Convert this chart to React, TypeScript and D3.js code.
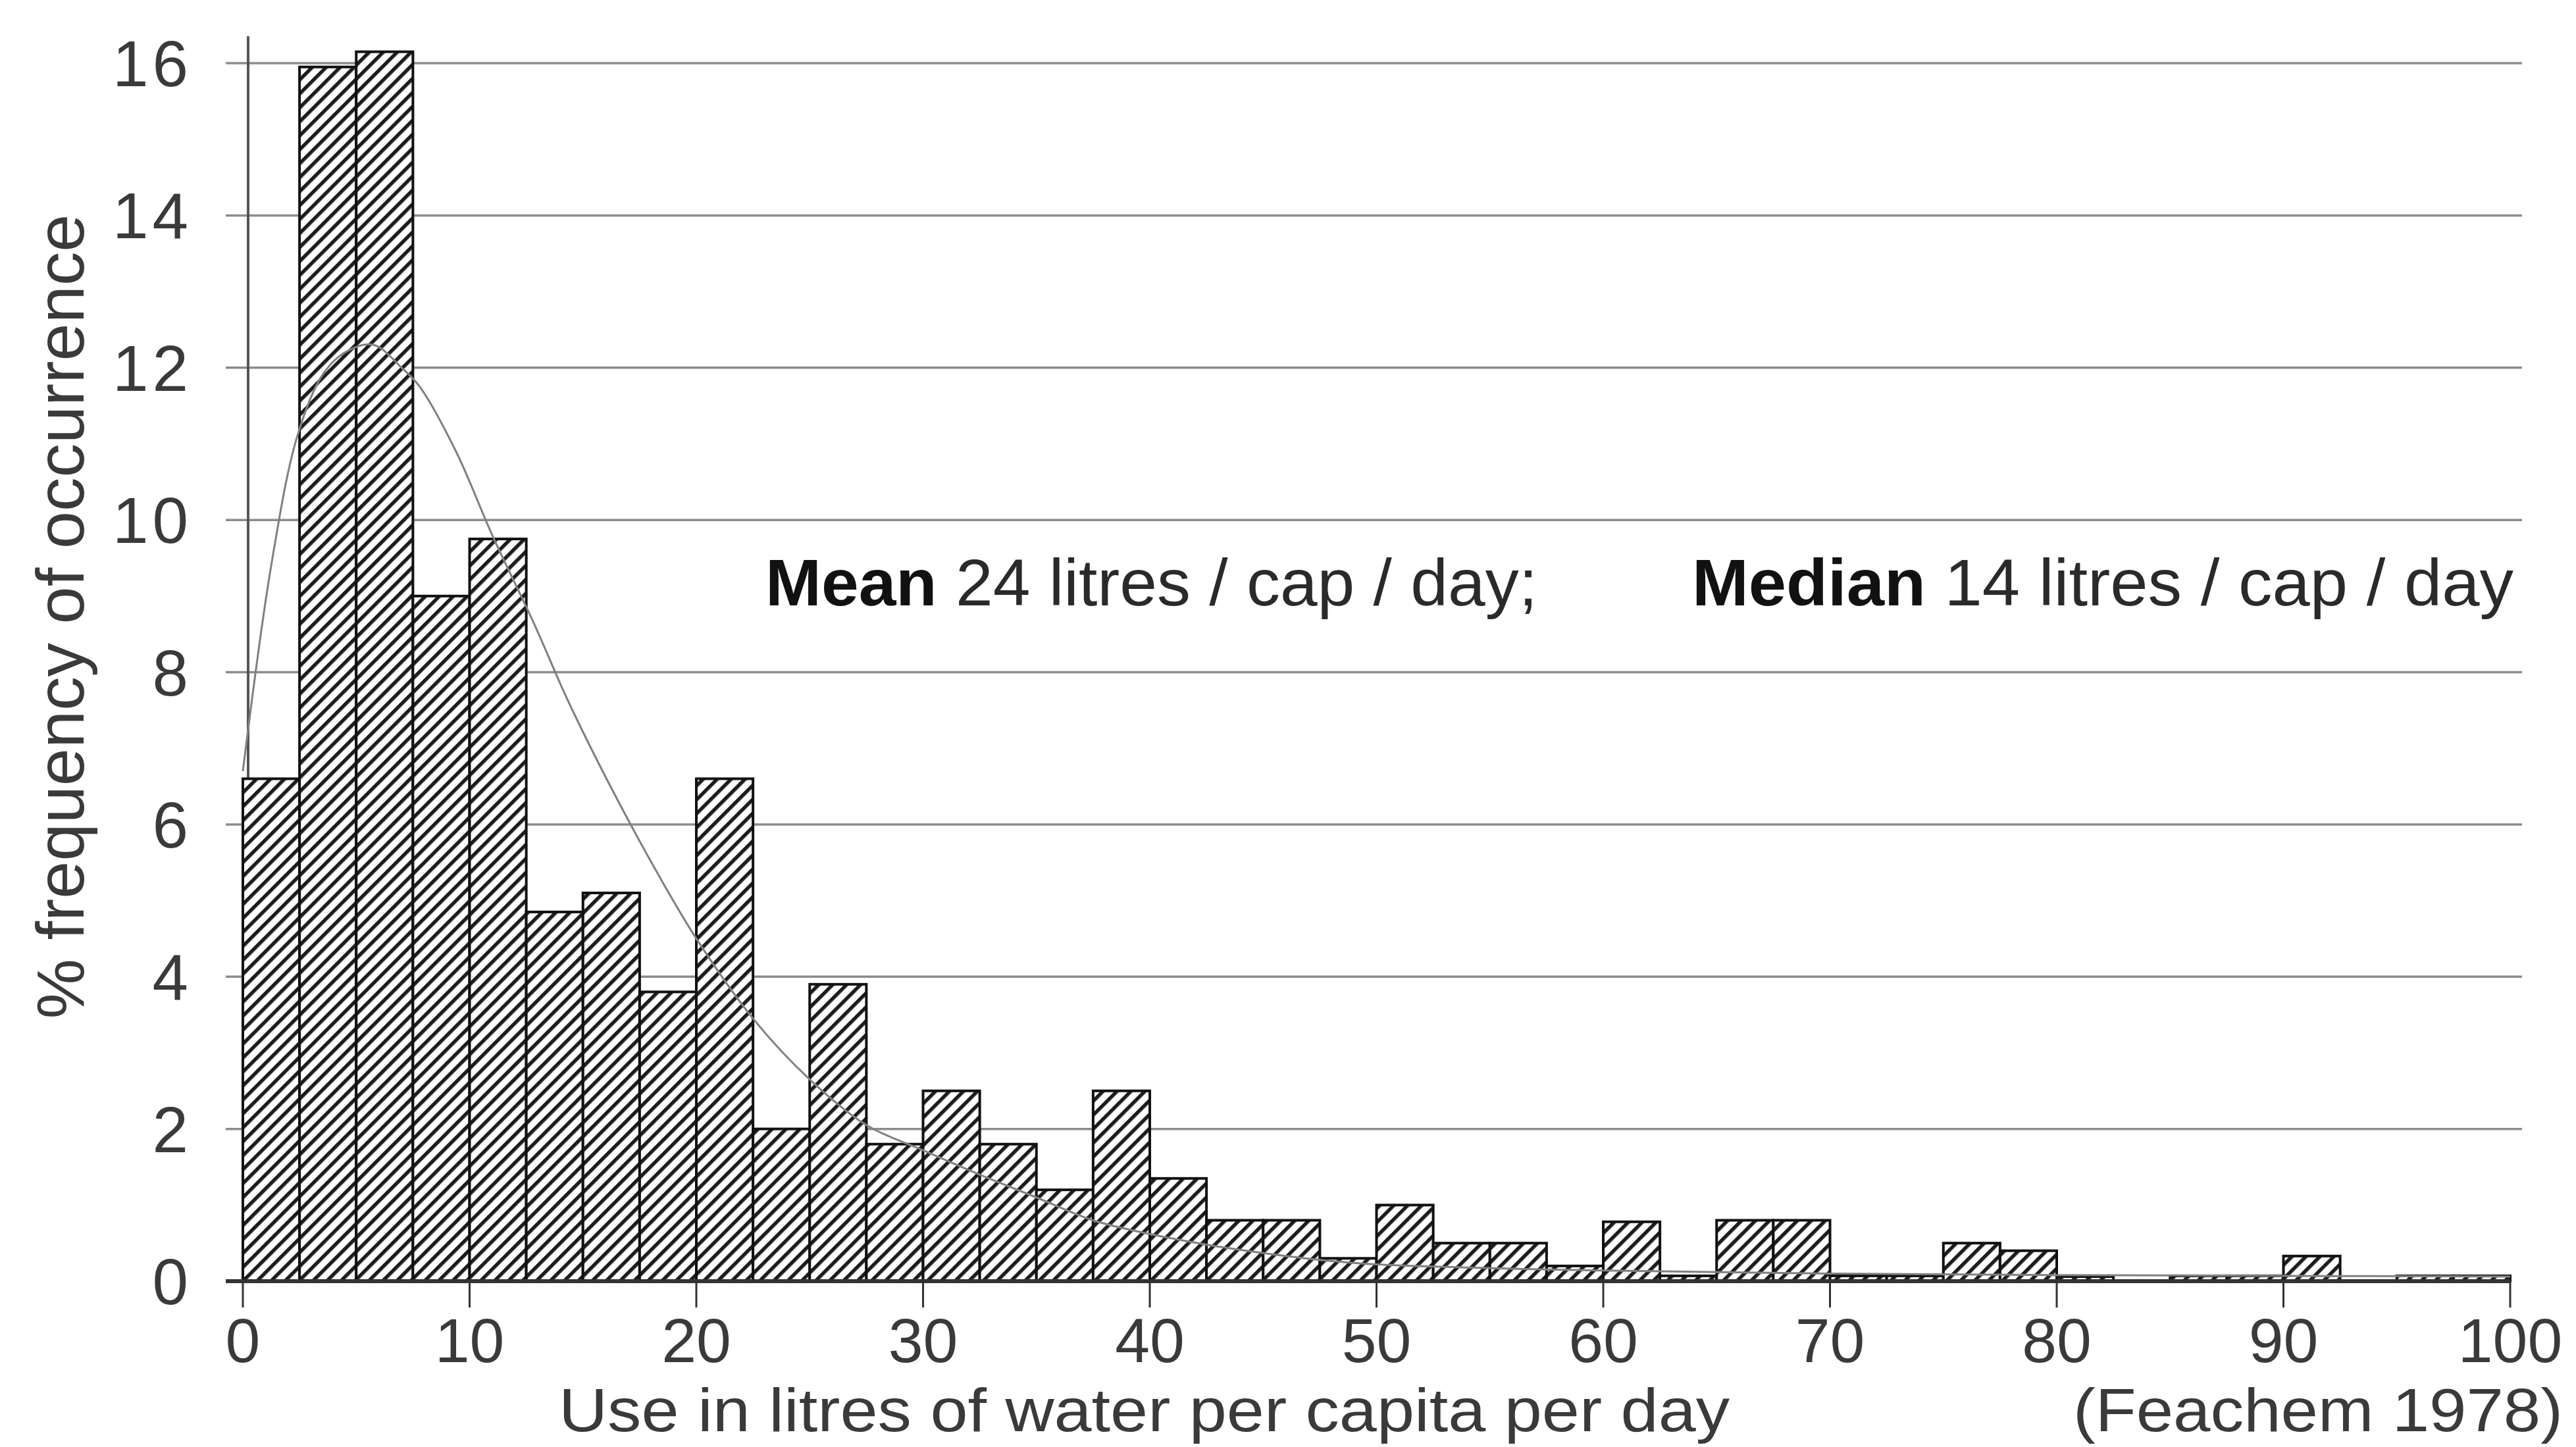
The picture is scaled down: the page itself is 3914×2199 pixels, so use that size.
import React from 'react';
import * as d3 from 'd3';

// ---- data ----
const binStarts = [0, 2.5, 5, 7.5, 10, 12.5, 15, 17.5, 20, 22.5, 25, 27.5, 30, 32.5, 35, 37.5, 40, 42.5, 45, 47.5, 50, 52.5, 55, 57.5, 60, 62.5, 65, 67.5, 70, 72.5, 75, 77.5, 80, 82.5, 85, 87.5, 90, 92.5, 95, 97.5];
const binWidth = 2.5;
const frequency = [6.6, 15.95, 16.15, 9.0, 9.75, 4.85, 5.1, 3.8, 6.6, 2.0, 3.9, 1.8, 2.5, 1.8, 1.2, 2.5, 1.35, 0.8, 0.8, 0.3, 1.0, 0.5, 0.5, 0.2, 0.78, 0.07, 0.8, 0.8, 0.07, 0.07, 0.5, 0.4, 0.06, 0, 0.07, 0.07, 0.33, 0, 0.07, 0.07];

const fitX = [0, 1.25, 2.4, 3.5, 4.5, 5.75, 7.0, 7.8, 9.4, 11, 12.9, 14.3, 16.3, 18.4, 20, 22.5, 25, 27.5, 30, 32.5, 35, 37.5, 40, 42.5, 45, 47.5, 50, 60, 70, 80, 90, 100];
const fitY = [6.7, 9.4, 11.1, 11.9, 12.2, 12.3, 12.0, 11.75, 10.9, 9.8, 8.6, 7.65, 6.45, 5.3, 4.5, 3.45, 2.65, 2.05, 1.72, 1.4, 1.1, 0.8, 0.62, 0.48, 0.37, 0.28, 0.22, 0.14, 0.1, 0.08, 0.07, 0.06];

const xTicks = [0, 10, 20, 30, 40, 50, 60, 70, 80, 90, 100];
const yTicks = [0, 2, 4, 6, 8, 10, 12, 14, 16];

const xTitle = 'Use in litres of water per capita per day';
const yTitle = '% frequency of occurrence';
const sourceNote = '(Feachem 1978)';

const W = 3914;
const H = 2199;
const FONT = '"Liberation Sans", Arial, Helvetica, sans-serif';

export default function App() {
  const x = d3.scaleLinear().domain([0, 100]).range([369, 3814]);
  const y = d3.scaleLinear().domain([0, 16]).range([1947, 96]);

  const line = d3
    .line<number>()
    .x((_, i) => x(fitX[i]))
    .y((d) => y(d))
    .curve(d3.curveCatmullRom.alpha(0.5));

  const axisX = x(0) + 8;
  const gridLeft = x(0) - 26;
  const gridRight = x(100) + 18;

  return (
    <svg
      width={W}
      height={H}
      viewBox={`0 0 ${W} ${H}`}
      style={{ position: 'absolute', left: 0, top: 0, display: 'block', background: '#fff' }}
      fontFamily={FONT}
    >
      <defs>
        <pattern id="hatch" patternUnits="userSpaceOnUse" width={15} height={15} patternTransform="rotate(45)">
          <rect width={15} height={15} fill="#fff" />
          <rect x={0} y={0} width={5.5} height={15} fill="#1c1c1c" />
        </pattern>
      </defs>
      <rect width={W} height={H} fill="#fff" />

      {/* gridlines */}
      {yTicks.filter((t) => t > 0).map((t) => (
        <line key={`g${t}`} x1={gridLeft} x2={gridRight} y1={y(t)} y2={y(t)} stroke="#8c8c8c" strokeWidth={3.5} />
      ))}

      {/* y axis */}
      <line x1={axisX} x2={axisX} y1={55} y2={y(0)} stroke="#555" strokeWidth={4} />

      {/* bars */}
      {binStarts.map((b, i) => {
        const v = frequency[i];
        const x0 = x(b);
        const x1 = x(b + binWidth);
        const top = y(v);
        return (
          <rect
            key={`b${i}`}
            x={x0}
            y={top}
            width={x1 - x0}
            height={Math.max(0, y(0) - top)}
            fill="url(#hatch)"
            stroke="#111"
            strokeWidth={v > 0 ? 4 : 0}
          />
        );
      })}

      {/* fitted curve */}
      <path d={line(fitY) || ''} fill="none" stroke="#808080" strokeWidth={3} />

      {/* baseline */}
      <line x1={gridLeft} x2={x(100)} y1={y(0)} y2={y(0)} stroke="#333" strokeWidth={6} />

      {/* x ticks */}
      {xTicks.map((t) => (
        <line key={`xt${t}`} x1={x(t)} x2={x(t)} y1={y(0)} y2={y(0) + 40} stroke="#333" strokeWidth={3} />
      ))}
      {xTicks.map((t) => (
        <text key={`xl${t}`} x={x(t)} y={2070} textAnchor="middle" fontSize={95} fill="#3a3a3a">
          {t}
        </text>
      ))}

      {/* y tick labels */}
      {yTicks.map((t) => (
        <text key={`yl${t}`} x={292} y={y(t) + 35} textAnchor="end" fontSize={98} fill="#3a3a3a" letterSpacing={6}>
          {t}
        </text>
      ))}

      {/* axis titles */}
      <text
        transform={`translate(127, 937) rotate(-90)`}
        textAnchor="middle"
        fontSize={102}
        fill="#3a3a3a"
        textLength={1223}
        lengthAdjust="spacingAndGlyphs"
      >
        {yTitle}
      </text>
      <text x={849} y={2175} fontSize={93} fill="#3a3a3a" textLength={1779} lengthAdjust="spacingAndGlyphs">
        {xTitle}
      </text>
      <text x={3150} y={2175} fontSize={93} fill="#3a3a3a" textLength={744} lengthAdjust="spacingAndGlyphs">
        {sourceNote}
      </text>

      {/* annotation */}
      <text x={1163} y={920} fontSize={100} fill="#2a2a2a" textLength={1173} lengthAdjust="spacingAndGlyphs">
        <tspan fontWeight="bold" fill="#111">Mean</tspan>
        <tspan> 24 litres / cap / day;</tspan>
      </text>
      <text x={2571} y={920} fontSize={100} fill="#2a2a2a" textLength={1248} lengthAdjust="spacingAndGlyphs">
        <tspan fontWeight="bold" fill="#111">Median</tspan>
        <tspan> 14 litres / cap / day</tspan>
      </text>
    </svg>
  );
}
